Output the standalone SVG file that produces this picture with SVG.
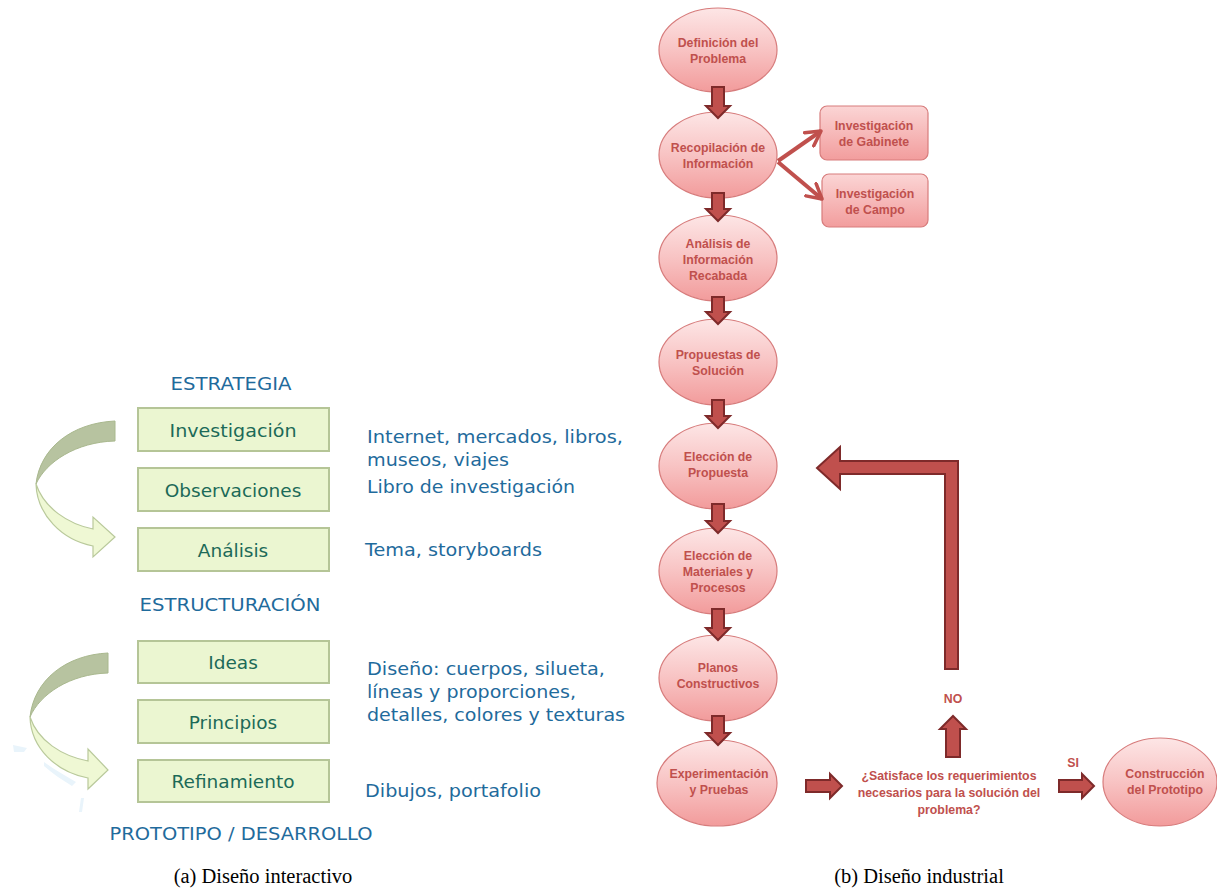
<svg xmlns="http://www.w3.org/2000/svg" width="1217" height="895" viewBox="0 0 1217 895">
<defs>
<linearGradient id="pink" x1="0" y1="0" x2="0" y2="1">
<stop offset="0" stop-color="#fde6e6"/>
<stop offset="0.5" stop-color="#f8c3c3"/>
<stop offset="1" stop-color="#f29b9b"/>
</linearGradient>
<linearGradient id="pinkbox" x1="0" y1="0" x2="0" y2="1">
<stop offset="0" stop-color="#fbd5d5"/>
<stop offset="1" stop-color="#f29d9d"/>
</linearGradient>
<marker id="ah" viewBox="0 0 12 12" refX="10" refY="6" markerWidth="4.8" markerHeight="4.8" orient="auto" markerUnits="strokeWidth">
<path d="M1,1 L10,6 L1,11" fill="none" stroke="#c0504d" stroke-width="2.2" stroke-linecap="round" stroke-linejoin="round"/>
</marker>
</defs>
<style>
.ell{fill:url(#pink);stroke:#d77c7c;stroke-width:1.2}
.rbox{fill:url(#pinkbox);stroke:#d77c7c;stroke-width:1.2}
.rt{font-family:"Liberation Sans",Arial,sans-serif;font-weight:bold;font-size:12.3px;fill:#c0504d;text-anchor:middle}
.arr{fill:#c0504d;stroke:#7e2a2a;stroke-width:2;stroke-linejoin:miter}
.gbox{fill:#ebf6d1;stroke:#b5c597;stroke-width:2}
.gt{font-family:"DejaVu Sans",Verdana,sans-serif;font-size:18.5px;fill:#1c6a58;text-anchor:middle}
.tt{font-family:"DejaVu Sans",Verdana,sans-serif;font-size:17px;fill:#1f6b9c;text-anchor:middle}
.bt{font-family:"DejaVu Sans",Verdana,sans-serif;font-size:17.5px;fill:#1f6b9c}
.cap{font-family:"Liberation Serif","Times New Roman",serif;font-size:20.5px;fill:#000;text-anchor:middle}
.curvD{fill:#b7c3a0;stroke:#a9b88e;stroke-width:1}
.curvL{fill:#eff8d4;stroke:#b9c99b;stroke-width:1.2}
.faint{fill:#e9f4fb}
</style>

<!-- (a) Diseño interactivo -->
<g id="title-estrategia"><text class="tt" x="231" y="390" textLength="121" lengthAdjust="spacingAndGlyphs">ESTRATEGIA</text></g>
<g id="box-investigacion"><rect class="gbox" x="138" y="408" width="191" height="43"/><text class="gt" x="233" y="437" textLength="127" lengthAdjust="spacingAndGlyphs">Investigación</text></g>
<g id="box-observaciones"><rect class="gbox" x="138" y="468" width="191" height="43"/><text class="gt" x="233" y="497">Observaciones</text></g>
<g id="box-analisis"><rect class="gbox" x="138" y="528" width="191" height="43"/><text class="gt" x="233" y="557">Análisis</text></g>
<g id="title-estructuracion"><text class="tt" x="230" y="611" textLength="181" lengthAdjust="spacingAndGlyphs">ESTRUCTURACIÓN</text></g>
<g id="box-ideas"><rect class="gbox" x="138" y="641" width="191" height="42"/><text class="gt" x="233" y="669">Ideas</text></g>
<g id="box-principios"><rect class="gbox" x="138" y="700" width="191" height="43"/><text class="gt" x="233" y="729">Principios</text></g>
<g id="box-refinamiento"><rect class="gbox" x="138" y="760" width="191" height="42"/><text class="gt" x="233" y="788">Refinamiento</text></g>
<g id="title-prototipo"><text class="tt" x="241" y="840" textLength="263" lengthAdjust="spacingAndGlyphs">PROTOTIPO / DESARROLLO</text></g>

<g id="curved-arrow-1">
<path class="curvD" d="M115,421 C72,423 40,448 36,484 C46,462 76,442 115,441 Z"/>
<path class="curvL" d="M36,484 C37,515 62,540 93,546 L93,557 L115,537 L93,517 L93,529 C68,524 44,508 36,484 Z"/>
</g>
<g id="faint-marks">
<path class="faint" d="M13,745 L27,748 L24,752 L14,752 Z"/>
<path class="faint" d="M44,762 C55,770 66,776 76,782 L72,786 C62,780 52,773 44,766 Z"/>
<path class="faint" d="M81,798 L84,798 L82,812 L79,812 Z"/>
</g>
<g id="curved-arrow-2">
<path class="curvD" d="M108,653 C66,655 34,680 30,717 C40,694 70,674 108,673 Z"/>
<path class="curvL" d="M30,717 C31,748 56,772 88,778 L88,789 L108,770 L88,749 L88,761 C62,756 38,741 30,717 Z"/>
</g>

<g id="notes">
<text class="bt" x="367" y="443" textLength="256" lengthAdjust="spacingAndGlyphs">Internet, mercados, libros,</text>
<text class="bt" x="367" y="466" textLength="142" lengthAdjust="spacingAndGlyphs">museos, viajes</text>
<text class="bt" x="367" y="493" textLength="208" lengthAdjust="spacingAndGlyphs">Libro de investigación</text>
<text class="bt" x="365" y="556" textLength="177" lengthAdjust="spacingAndGlyphs">Tema, storyboards</text>
<text class="bt" x="367" y="675" textLength="238" lengthAdjust="spacingAndGlyphs">Diseño: cuerpos, silueta,</text>
<text class="bt" x="367" y="698" textLength="209" lengthAdjust="spacingAndGlyphs">líneas y proporciones,</text>
<text class="bt" x="367" y="721" textLength="258" lengthAdjust="spacingAndGlyphs">detalles, colores y texturas</text>
<text class="bt" x="365" y="797" textLength="176" lengthAdjust="spacingAndGlyphs">Dibujos, portafolio</text>
</g>

<!-- (b) Diseño industrial -->
<g id="n1"><ellipse class="ell" cx="718" cy="50" rx="59" ry="42"/><text class="rt" x="718" y="47">Definición del</text><text class="rt" x="718" y="63">Problema</text></g>
<g id="n2"><ellipse class="ell" cx="718" cy="155" rx="59" ry="43"/><text class="rt" x="718" y="152">Recopilación de</text><text class="rt" x="718" y="168">Información</text></g>
<g id="n3"><ellipse class="ell" cx="718" cy="258" rx="59" ry="43"/><text class="rt" x="718" y="248">Análisis de</text><text class="rt" x="718" y="264">Información</text><text class="rt" x="718" y="280">Recabada</text></g>
<g id="n4"><ellipse class="ell" cx="718" cy="362" rx="59" ry="43"/><text class="rt" x="718" y="359">Propuestas de</text><text class="rt" x="718" y="375">Solución</text></g>
<g id="n5"><ellipse class="ell" cx="718" cy="466" rx="59" ry="43"/><text class="rt" x="718" y="461">Elección de</text><text class="rt" x="718" y="477">Propuesta</text></g>
<g id="n6"><ellipse class="ell" cx="718" cy="571" rx="59" ry="43"/><text class="rt" x="718" y="560">Elección de</text><text class="rt" x="718" y="576">Materiales y</text><text class="rt" x="718" y="592">Procesos</text></g>
<g id="n7"><ellipse class="ell" cx="718" cy="678" rx="59" ry="43"/><text class="rt" x="718" y="672">Planos</text><text class="rt" x="718" y="688">Constructivos</text></g>
<g id="n8"><ellipse class="ell" cx="717" cy="783" rx="60" ry="43"/><text class="rt" x="719" y="778">Experimentación</text><text class="rt" x="719" y="794">y Pruebas</text></g>
<g id="n9"><ellipse class="ell" cx="1160" cy="782" rx="57" ry="44"/><text class="rt" x="1165" y="778">Construcción</text><text class="rt" x="1165" y="794">del Prototipo</text></g>
<g id="b1"><rect class="rbox" x="820" y="106" width="108" height="54" rx="7"/><text class="rt" x="874" y="130">Investigación</text><text class="rt" x="874" y="146">de Gabinete</text></g>
<g id="b2"><rect class="rbox" x="822" y="174" width="106" height="53" rx="7"/><text class="rt" x="875" y="198">Investigación</text><text class="rt" x="875" y="214">de Campo</text></g>
<g id="decision"><text class="rt" x="949" y="780">¿Satisface los requerimientos</text><text class="rt" x="949" y="797">necesarios para la solución del</text><text class="rt" x="949" y="814">problema?</text></g>

<g id="connectors">
<path class="arr" d="M712,87 L724,87 L724,106 L730,106 L718,118 L706,106 L712,106 Z"/>
<path class="arr" d="M712,193 L724,193 L724,209 L730,209 L718,221 L706,209 L712,209 Z"/>
<path class="arr" d="M712,297 L724,297 L724,312 L730,312 L718,324 L706,312 L712,312 Z"/>
<path class="arr" d="M712,400 L724,400 L724,416 L730,416 L718,428 L706,416 L712,416 Z"/>
<path class="arr" d="M712,504 L724,504 L724,521 L730,521 L718,533 L706,521 L712,521 Z"/>
<path class="arr" d="M712,609 L724,609 L724,628 L730,628 L718,640 L706,628 L712,628 Z"/>
<path class="arr" d="M712,716 L724,716 L724,733 L730,733 L718,745 L706,733 L712,733 Z"/>
<line x1="778" y1="161" x2="821" y2="131" stroke="#c0504d" stroke-width="4" marker-end="url(#ah)"/>
<line x1="778" y1="162" x2="822" y2="199" stroke="#c0504d" stroke-width="4" marker-end="url(#ah)"/>
<path class="arr" d="M806,780 L830,780 L830,774 L842,786 L830,798 L830,792 L806,792 Z"/>
<path class="arr" d="M1059,780 L1082,780 L1082,774 L1094,786 L1082,798 L1082,792 L1059,792 Z"/>
<path class="arr" d="M946,757 L946,729 L940,729 L953,716 L966,729 L960,729 L960,757 Z"/>
<path class="arr" d="M945,669 L958,669 L958,461 L840,461 L840,447 L817,468 L840,489 L840,474 L945,474 Z"/>
<text class="rt" x="953" y="703" font-size="11">NO</text>
<text class="rt" x="1073" y="767" font-size="11">SI</text>
</g>

<g id="captions">
<text class="cap" x="263" y="883">(a) Diseño interactivo</text>
<text class="cap" x="919" y="883">(b) Diseño industrial</text>
</g>
</svg>
